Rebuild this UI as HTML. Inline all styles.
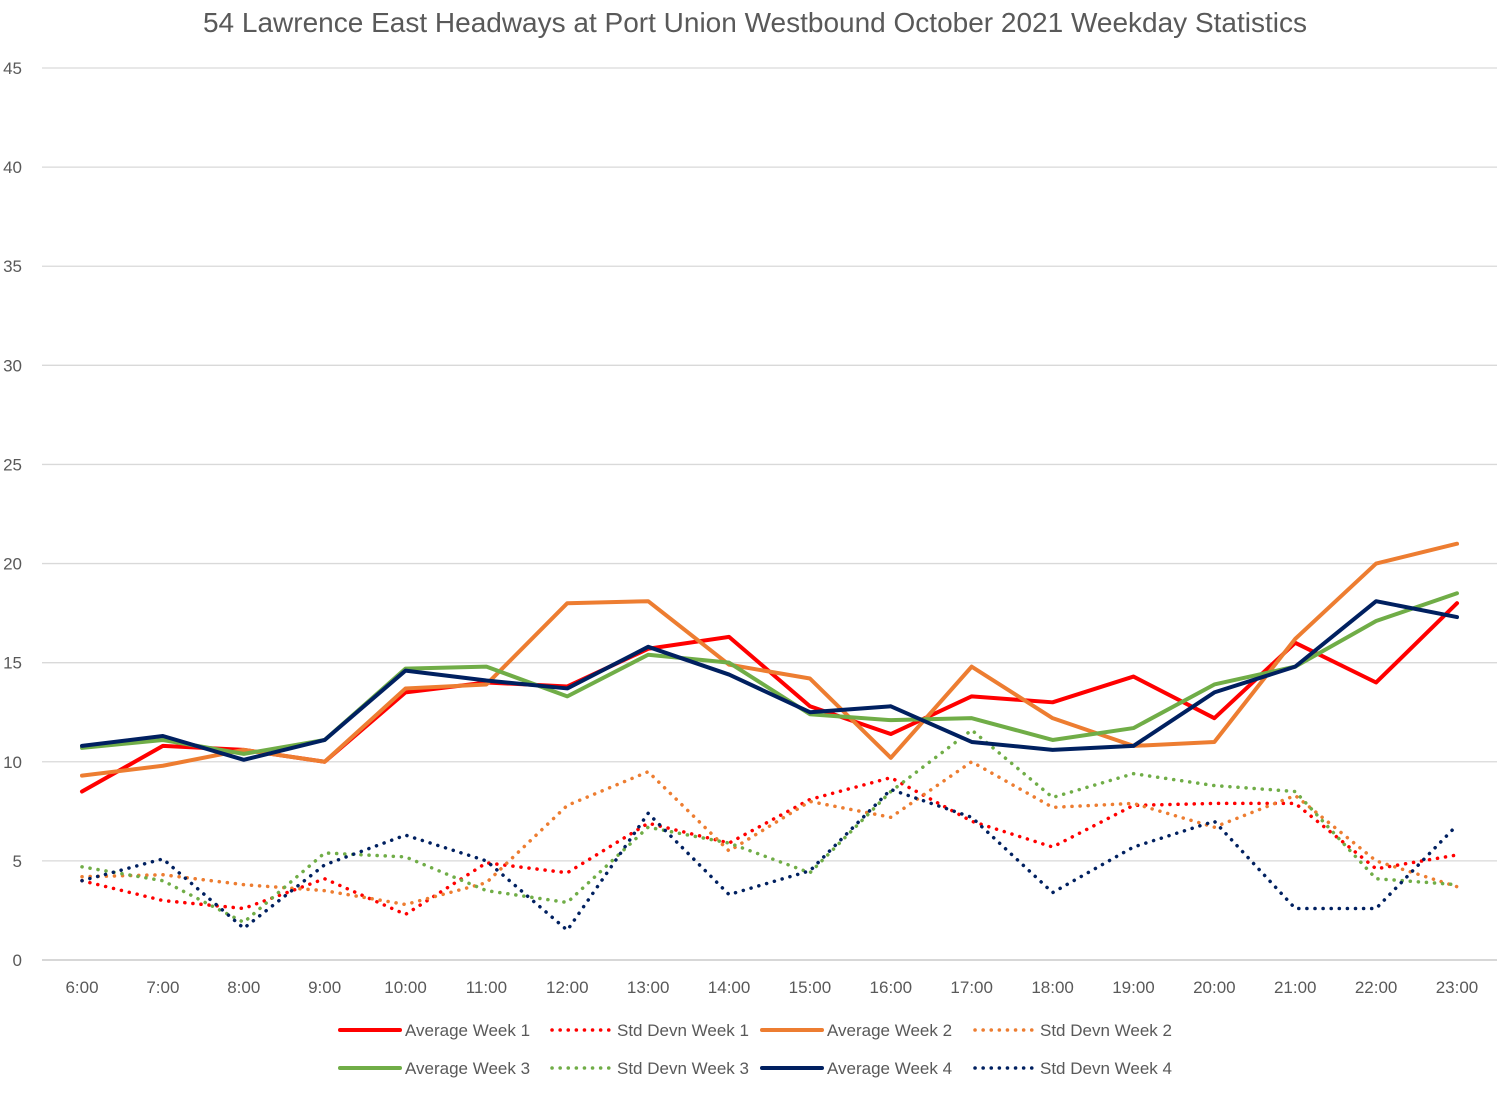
<!DOCTYPE html>
<html><head><meta charset="utf-8"><style>
body{margin:0;background:#fff;font-family:"Liberation Sans",sans-serif;}
svg text{font-family:"Liberation Sans",sans-serif;fill:#595959;}
</style></head><body>
<svg id="chart" width="1510" height="1088" xmlns="http://www.w3.org/2000/svg">
<rect width="1510" height="1088" fill="#fff"/>
<text x="755" y="32" font-size="28" text-anchor="middle">54 Lawrence East Headways at Port Union Westbound October 2021 Weekday Statistics</text>
<g id="grid"></g><g id="series"></g><g id="legend"></g>
</svg>
<script>
const categories=["6:00","7:00","8:00","9:00","10:00","11:00","12:00","13:00","14:00","15:00","16:00","17:00","18:00","19:00","20:00","21:00","22:00","23:00"];
const yTicks=[0,5,10,15,20,25,30,35,40,45];
const avgW1=[8.5,10.8,10.6,10.0,13.5,14.0,13.8,15.7,16.3,12.8,11.4,13.3,13.0,14.3,12.2,16.0,14.0,18.0];
const avgW2=[9.3,9.8,10.6,10.0,13.7,13.9,18.0,18.1,14.9,14.2,10.2,14.8,12.2,10.8,11.0,16.2,20.0,21.0];
const avgW3=[10.7,11.1,10.4,11.1,14.7,14.8,13.3,15.4,15.0,12.4,12.1,12.2,11.1,11.7,13.9,14.8,17.1,18.5];
const avgW4=[10.8,11.3,10.1,11.1,14.6,14.1,13.7,15.8,14.4,12.5,12.8,11.0,10.6,10.8,13.5,14.8,18.1,17.3];
const sdW1=[4.0,3.0,2.6,4.1,2.3,4.9,4.4,6.9,5.9,8.1,9.2,7.0,5.7,7.8,7.9,7.9,4.6,5.3];
const sdW2=[4.2,4.3,3.8,3.5,2.8,3.9,7.8,9.5,5.5,8.0,7.2,10.0,7.7,7.9,6.7,8.3,5.0,3.7];
const sdW3=[4.7,4.0,1.9,5.4,5.2,3.5,2.9,6.7,5.9,4.4,8.5,11.6,8.2,9.4,8.8,8.5,4.1,3.8];
const sdW4=[4.0,5.1,1.6,4.8,6.3,5.0,1.5,7.4,3.3,4.5,8.6,7.2,3.4,5.7,7.0,2.6,2.6,6.8];
const NS="http://www.w3.org/2000/svg";
const x=i=>82+i*(1375/17);
const y=v=>960-v*(892/45);
function mk(tag,attrs,parent){const e=document.createElementNS(NS,tag);for(const k in attrs)e.setAttribute(k,attrs[k]);parent.appendChild(e);return e;}
const grid=document.getElementById('grid');
yTicks.forEach(t=>{
  const l=mk('line',{x1:42,x2:1497,y1:y(t),y2:y(t),stroke:t===0?'#bfbfbf':'#d9d9d9','stroke-width':1.3},grid);
  
  
  const tx=mk('text',{x:22,y:y(t)+6,'font-size':17,'text-anchor':'end'},grid);
  tx.textContent=t;
  
  
});
categories.forEach((c,i)=>{
  const tx=mk('text',{x:x(i),y:993,'font-size':17,'text-anchor':'middle'},grid);
  tx.textContent=c;
  
  
});
const seriesList=[
 ["Average Week 1",avgW1,"#ff0000",false],["Std Devn Week 1",sdW1,"#ff0000",true],
 ["Average Week 2",avgW2,"#ed7d31",false],["Std Devn Week 2",sdW2,"#ed7d31",true],
 ["Average Week 3",avgW3,"#70ad47",false],["Std Devn Week 3",sdW3,"#70ad47",true],
 ["Average Week 4",avgW4,"#002060",false],["Std Devn Week 4",sdW4,"#002060",true]];
const sg=document.getElementById('series');
seriesList.forEach(([name,vals,col,dot])=>{
  const p=mk('polyline',{points:vals.map((v,i)=>x(i)+','+y(v)).join(' '),fill:'none',stroke:col,'stroke-width':dot?3.5:4,'stroke-linejoin':'round','stroke-linecap':'round','stroke-dasharray':dot?'0.1 8':'none'},sg);
  
  
});
const lg=document.getElementById('legend');
const lx=[340,552,762,975];
seriesList.forEach(([name,vals,col,dot],k)=>{
  const row=Math.floor(k/4),c=k%4,yy=row?1068:1030,x0=lx[c];
  const g=mk('g',{},lg);
  
  
  mk('line',{x1:x0,x2:x0+60,y1:yy,y2:yy,stroke:col,'stroke-width':dot?3.5:4,'stroke-linecap':'round','stroke-dasharray':dot?'0.1 8':'none'},g);
  const t=mk('text',{x:x0+65,y:yy+6,'font-size':17},g);
  t.textContent=name;
});
</script>
</body></html>
